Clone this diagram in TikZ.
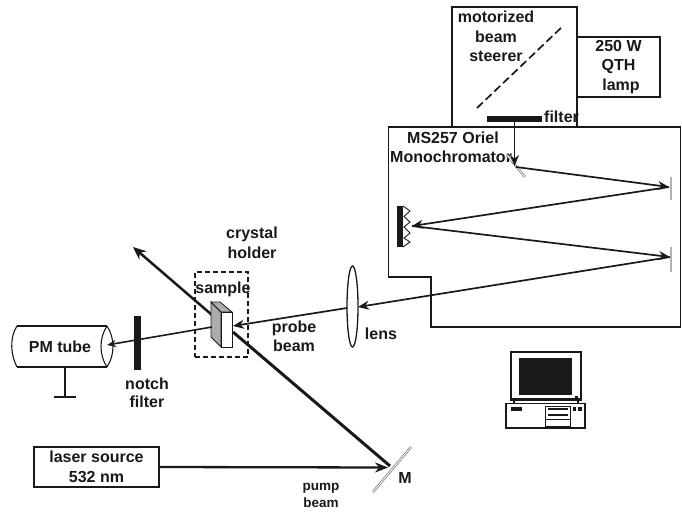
\documentclass[tikz,border=0pt]{standalone}
\usepackage{fontspec}
\setmainfont{Liberation Sans}
\usetikzlibrary{arrows.meta,patterns,shapes.geometric}
\definecolor{ink}{gray}{0.1}
\tikzset{
  lbl/.style={font=\fontsize{16}{16}\selectfont\bfseries,text=ink,inner sep=0pt,anchor=center},
  lblsmall/.style={font=\fontsize{13.5}{13.5}\selectfont\bfseries,text=ink,inner sep=0pt,anchor=center},
  frame/.style={draw=ink,line width=1.1pt},
  boxnode/.style={draw=ink,line width=1.1pt,inner sep=0pt,align=center,font=\fontsize{16}{19.5}\selectfont\bfseries,text=ink},
  beam/.style={draw=ink,line width=1.7pt,-{Stealth[length=11pt,width=9pt]}},
  plainbeam/.style={draw=ink,line width=1.6pt},
  thickbeam/.style={draw=ink,line width=3pt},
  mirror/.style={draw=gray!60,line width=2pt},
  dblmirror/.style={draw=gray!90!black,double=white,double distance=0.9pt,line width=0.7pt},
  solidbar/.style={fill=ink,draw=none},
}
\begin{document}
\begin{tikzpicture}[x=1pt,y=-1pt,line join=miter]
\useasboundingbox (0,0) rectangle (682,513);
% housings
\node[frame,minimum width=125pt,minimum height=120pt,inner sep=0pt] (steer) at (514.5,67) {};
\node[boxnode,minimum width=83pt,minimum height=60pt] (lamp) at (618.5,67) {250 W\\QTH\\\hspace*{5pt}lamp};
\draw[frame,fill=white] (388.5,127) -- (680.5,127) -- (680.5,327) -- (431,327) -- (431,277) -- (388.5,277) -- cycle;
% steerer
\coordinate (dashA) at (477,108);
\coordinate (dashB) at (563,26);
\draw[ink,line width=1.7pt,dash pattern=on 8pt off 4pt] (dashA) -- (dashB);
\node[lbl] (t1) at (496,17) {motorized};
\node[lbl] (t2) at (496,37) {beam};
\node[lbl] (t3) at (496,56) {steerer};
\node[solidbar,minimum width=55pt,minimum height=6pt,inner sep=0pt] (filt) at (514.5,119.5) {};
\node[lbl,anchor=west] (t4) at (544,117) {filter};
\node[lbl] (t5) at (453,138) {MS257 Oriel};
\node[lbl,anchor=west] (t6) at (390,157) {Monochromator};
% mirrors
\coordinate (m1a) at (507,155); \coordinate (m1b) at (525,177);
\coordinate (m2a) at (671,177); \coordinate (m2b) at (671,200);
\coordinate (m3a) at (671,247); \coordinate (m3b) at (671,272);
\coordinate (m4a) at (373,492); \coordinate (m4b) at (411,447);
\draw[dblmirror] (m1a) -- (m1b);
\draw[mirror] (m2a) -- (m2b);
\draw[mirror] (m3a) -- (m3b);
\draw[dblmirror] (m4a) -- (m4b);
% grating
\node[solidbar,minimum width=6pt,minimum height=41pt,inner sep=0pt] (grat) at (400,226.5) {};
\coordinate (z0) at (403,206);
\draw[ink,line width=0.9pt] (z0) -- (410,211) -- (404,216.5) -- (410,222) -- (404,227) -- (410,233) -- (404,238) -- (410,242) -- (403,247);
% beam points
\coordinate (p1) at (514.5,122);
\coordinate (p2) at (514.5,166);
\coordinate (p3) at (516,167);
\coordinate (p4) at (669,187);
\coordinate (p5) at (412,226);
\coordinate (p6) at (670,257);
\coordinate (p7) at (358,307);
\draw[beam] (p1) -- (p2);
\draw[beam] (p3) -- (p4);
\draw[beam] (p4) -- (p5);
\draw[beam] (p5) -- (p6);
\draw[beam] (p6) -- (p7);
% lens
\node[draw=ink,line width=1.3pt,ellipse,minimum width=11pt,minimum height=81pt,inner sep=0pt] (lens) at (352.5,306.5) {};
\node[lbl] (t7) at (381,334) {lens};
% sample + holder
\node[draw=ink,line width=1.1pt,dash pattern=on 5pt off 3pt,minimum width=53pt,minimum height=85pt,inner sep=0pt] (holder) at (221.5,314.5) {};
\coordinate (pm) at (390,466);
\coordinate (ps) at (233,332);
\coordinate (ps2) at (212,315);
\coordinate (pt) at (133,247);
\draw[thickbeam] (pm) -- (ps);
\draw[draw=ink,line width=2.5pt,-{Stealth[length=13pt,width=11pt]}] (ps2) -- (pt);
\draw[ink,line width=0.8pt,fill=gray!65] (211,302) -- (221,312) -- (221,347) -- (211,337) -- cycle;
\draw[ink,line width=0.8pt,fill=gray!65] (211,302) -- (220,302) -- (232,312) -- (221,312) -- cycle;
\node[draw=ink,line width=1pt,fill=white,minimum width=11pt,minimum height=35pt,inner sep=0pt] (samplebox) at (226.5,329.5) {};
\node[lbl] (t8) at (252,234) {crystal};
\node[lbl] (t9) at (252,253) {holder};
\node[lbl] (t10) at (223,289) {sample};
\node[lbl] (t11) at (294,328) {probe};
\node[lbl] (t12) at (294,346) {beam};
\coordinate (q1) at (347,308);
\coordinate (q2) at (233,326);
\coordinate (q3) at (212,327);
\coordinate (q4) at (107,345);
\draw[beam] (q1) -- (q2);
% PM tube
\draw[frame] (17,326) -- (107,326) (17,367) -- (107,367);
\draw[frame] (17,326) .. controls (9,338) and (11,356) .. (17,367);
\draw[frame] (107,326) .. controls (99,338) and (99,355) .. (107,367);
\draw[frame] (107,326) .. controls (115,338) and (115,355) .. (107,367);
\node[lbl] (t13) at (60,347) {PM tube};
\draw[plainbeam,-{Stealth[length=9pt,width=7pt]}] (q3) -- (q4);
\node[solidbar,minimum width=7pt,minimum height=54pt,inner sep=0pt] (notch) at (137.5,343) {};
\node[lbl] (t14) at (147,384) {notch};
\node[lbl] (t15) at (147,402) {filter};
\coordinate (g1) at (65,367); \coordinate (g2) at (65,397);
\coordinate (g3) at (54,397); \coordinate (g4) at (76,397);
\draw[frame] (g1) -- (g2);
\draw[frame] (g3) -- (g4);
% laser
\node[boxnode,minimum width=125pt,minimum height=40pt] (laser) at (96.5,467) {laser source\\532 nm};
\coordinate (mh) at (388,467.5);
\draw[draw=ink,line width=2.3pt,-{Stealth[length=13pt,width=10pt]}] (laser.east) -- (mh);
\node[lbl] (t16) at (405,478) {M};
\node[lblsmall] (t17) at (321,488) {pump};
\node[lblsmall] (t18) at (321,503) {beam};
% computer
\draw[ink,line width=1.2pt] (511,352) rectangle (581,400);
\fill[ink] (519,358) rectangle (572,395);
\draw[ink,line width=0.7pt] (511,398) -- (581,398);
\draw[ink,line width=0.7pt] (526,398) -- (526,400) (541,398) -- (541,400);
\fill[ink] (575,396) rectangle (578,398);
\draw[ink,line width=1.1pt] (514,400) -- (514,403) (578,400) -- (578,403);
\draw[ink,line width=1.2pt] (506,403.5) rectangle (585,428);
\fill[ink] (511,407) rectangle (522,411);
\draw[ink,line width=0.7pt] (545,406) rectangle (570,426);
\fill[ink] (548,408) rectangle (568,410);
\fill[ink] (548,414) rectangle (568,416);
\draw[ink,line width=0.7pt] (545,419) -- (570,419);
\fill[ink] (573,407) rectangle (576,411);
\fill[ink] (578,407) rectangle (582,411);
\end{tikzpicture}
\end{document}
